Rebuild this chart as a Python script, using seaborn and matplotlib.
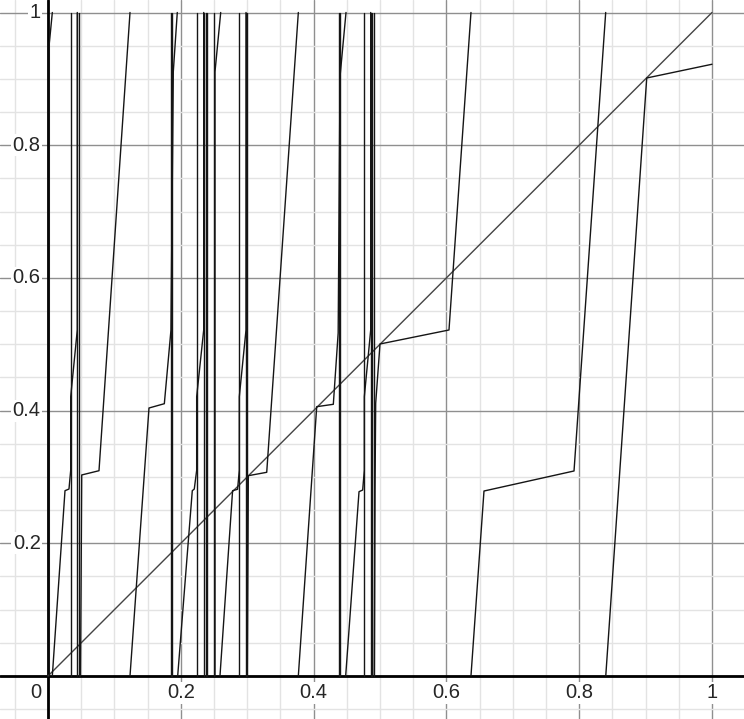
import numpy as np
import pandas as pd
import matplotlib
matplotlib.use("Agg")
import matplotlib.pyplot as plt
import seaborn as sns

# ── Data ────────────────────────────────────────────────
DIAG_X = [0.0, 1.0]
DIAG_Y = [0.0, 1.0]

# one polyline per stroke of the curve (breaks where it wraps from 1 to 0)
STROKES_X = [
    [0.002, 0.002, 0.0065],
    [0.0065, 0.0256, 0.0316, 0.0342, 0.0342, 0.0441, 0.0441],
    [0.0490, 0.0508, 0.0768, 0.1235],
    [0.1235, 0.1521, 0.1752, 0.1852, 0.1887, 0.1947],
    [0.1953, 0.2173, 0.2203, 0.2239, 0.2239, 0.2345, 0.2345],
    [0.2515, 0.2515, 0.2601],
    [0.2590, 0.2780, 0.2855, 0.2881, 0.2881, 0.2982, 0.2982],
    [0.3001, 0.3017, 0.3294, 0.3770],
    [0.3770, 0.4047, 0.4297, 0.4370, 0.4398, 0.4488],
    [0.4483, 0.4684, 0.4739, 0.4764, 0.4764, 0.4860, 0.4860],
    [0.4914, 0.4925, 0.4935, 0.5000, 0.6039, 0.6370],
    [0.6370, 0.6566, 0.7922, 0.8399],
    [0.8400, 0.9017, 1.0],
]
STROKES_Y = [
    [0.0, 0.9536, 1.0],
    [0.0, 0.2793, 0.2818, 0.3100, 0.4210, 0.5215, 1.0],
    [0.0, 0.3030, 0.3094, 1.0],
    [0.0, 0.4039, 0.4104, 0.5215, 0.9108, 1.0],
    [0.0, 0.2793, 0.2818, 0.3100, 0.4210, 0.5215, 1.0],
    [0.0, 0.9108, 1.0],
    [0.0, 0.2793, 0.2814, 0.3100, 0.4210, 0.5215, 1.0],
    [0.0, 0.3019, 0.3070, 1.0],
    [0.0, 0.4059, 0.4095, 0.5170, 0.9035, 1.0],
    [0.0, 0.2778, 0.2803, 0.3100, 0.4210, 0.5215, 1.0],
    [0.0, 0.2800, 0.4110, 0.5004, 0.5215, 1.0],
    [0.0, 0.2788, 0.3090, 1.0],
    [0.0, 0.9013, 0.9220],
]
# near-vertical strokes running the full height
VERT_X = [0.0342, 0.0441, 0.0467, 0.1852, 0.1872, 0.2239, 0.2345, 0.2375,
          0.2390, 0.2505, 0.2881, 0.2982, 0.3001, 0.4383, 0.4402, 0.4764,
          0.4860, 0.4884, 0.4914]

rows = []
for i, (xs, ys) in enumerate(zip(STROKES_X, STROKES_Y)):
    for x, y in zip(xs, ys):
        rows.append({"x": x, "y": y, "seg": f"s{i}"})
for j, x in enumerate(VERT_X):
    rows.append({"x": x, "y": 0.0, "seg": f"v{j}"})
    rows.append({"x": x, "y": 1.0, "seg": f"v{j}"})
df = pd.DataFrame(rows)
diag = pd.DataFrame({"x": DIAG_X, "y": DIAG_Y})

# ── Style ──────────────────────────────────────────────
sns.set_theme(style="white")
plt.rcParams["font.family"] = ["Liberation Sans", "DejaVu Sans"]

fig = plt.figure(figsize=(7.44, 7.19), dpi=100)
ax = fig.add_axes([0, 0, 1, 1])

sns.lineplot(data=diag, x="x", y="y", sort=False, color="#444444",
             linewidth=1.0, ax=ax, legend=False, zorder=4)
sns.lineplot(data=df, x="x", y="y", units="seg", estimator=None, sort=False,
             color="#151515", linewidth=1.0, ax=ax, legend=False, zorder=4)
ax.set_xlabel("")
ax.set_ylabel("")

ticks = np.arange(0, 1.01, 0.2)
minor = np.arange(-0.05, 1.06, 0.05)
ax.set_xticks(ticks)
ax.set_yticks(ticks)
ax.set_xticks(minor, minor=True)
ax.set_yticks(minor, minor=True)
ax.grid(which="minor", color="#e3e3e3", linewidth=1.0)
ax.grid(which="major", color="#8f8f8f", linewidth=1.0)
ax.tick_params(which="both", length=0, labelbottom=False, labelleft=False)
for s in ax.spines.values():
    s.set_visible(False)
ax.axhline(0, color="black", linewidth=2.0, zorder=3)
ax.axvline(0, color="black", linewidth=2.0, zorder=3)
ax.set_xlim(-48 / 664, (744 - 48) / 664)
ax.set_ylim(-(719 - 676) / 663.5, 676 / 663.5)

bbox = dict(facecolor="white", edgecolor="none", pad=1.0)
for t in ticks:
    lab = "1" if abs(t - 1) < 1e-9 else f"{t:.1f}"
    if t == 0:
        ax.text(-0.018, -0.0255, "0", ha="center", va="center", fontsize=14.5,
                bbox=bbox, zorder=5)
        continue
    ax.text(t, -0.0255, lab, ha="center", va="center", fontsize=14.5,
            bbox=bbox, zorder=5)
    ax.text(-0.011, t, lab, ha="right", va="center", fontsize=14.5,
            bbox=bbox, zorder=5)

fig.savefig("out.png", dpi=100)
